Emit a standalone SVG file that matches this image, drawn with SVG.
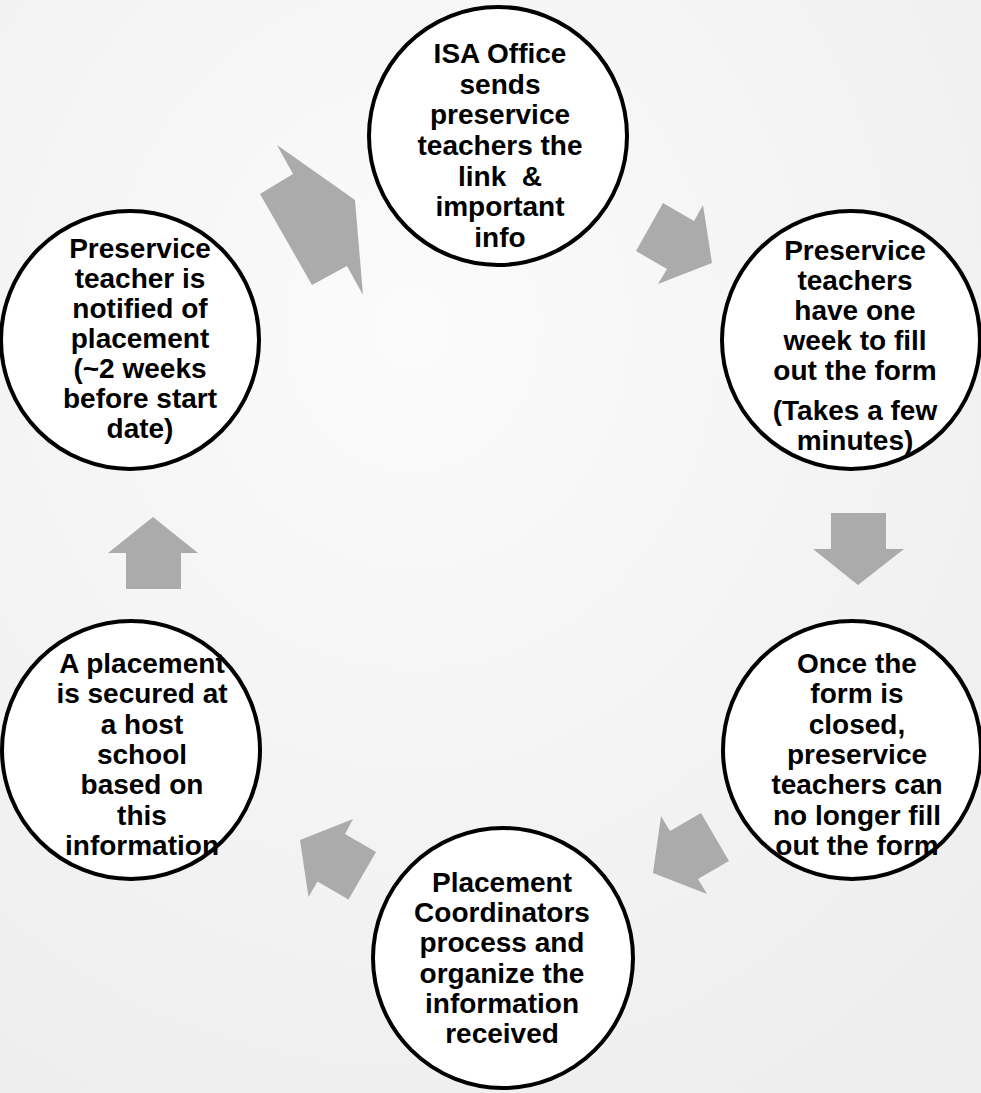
<svg xmlns="http://www.w3.org/2000/svg" width="981" height="1093" viewBox="0 0 981 1093">
<defs>
<radialGradient id="bg" cx="0.42" cy="0.3" r="0.85">
<stop offset="0" stop-color="#fbfbfb"/>
<stop offset="1" stop-color="#ededed"/>
</radialGradient>
</defs>
<style>
.node circle{fill:#ffffff;stroke:#000000;stroke-width:4}
.node text{font-family:"Liberation Sans",Arial,sans-serif;font-weight:bold;font-size:28px;fill:#000000;text-anchor:middle}
.arrow{fill:#ababab;stroke:none}
</style>
<rect x="0" y="0" width="981" height="1093" fill="url(#bg)"/>
<g id="connectors">
<polygon class="arrow" points="277,145 293,174 260,194 312,285 347,266 363,295 355,200"/>
<polygon class="arrow" points="663,203 694,221 703,205 712,263 658,284 667,269 636,251"/>
<polygon class="arrow" points="831,513 886,513 886,549 904,549 858,585 813,549 831,549"/>
<polygon class="arrow" points="701,813 670,831 661,816 653,873 707,894 698,879 729,861"/>
<polygon class="arrow" points="376,852 345,834 353,819 300,840 308.5,897 317.5,881.6 348.5,899.6"/>
<polygon class="arrow" points="153,517 198,553 181,553 181,589 126,589 126,553 108,553"/>
</g>
<g id="node-isa" class="node">
<circle cx="498" cy="136" r="129"/>
<text x="500" y="63">ISA Office</text>
<text x="500" y="94">sends</text>
<text x="500" y="124">preservice</text>
<text x="500" y="155">teachers the</text>
<text x="500" y="186" xml:space="preserve">link  &amp;</text>
<text x="500" y="216">important</text>
<text x="500" y="247">info</text>
</g>
<g id="node-fill-form" class="node">
<circle cx="851" cy="340" r="129"/>
<text x="855" y="260">Preservice</text>
<text x="855" y="290">teachers</text>
<text x="855" y="320">have one</text>
<text x="855" y="350">week to fill</text>
<text x="855" y="380">out the form</text>
<text x="855" y="420">(Takes a few</text>
<text x="855" y="450">minutes)</text>
</g>
<g id="node-form-closed" class="node">
<circle cx="852" cy="750" r="129"/>
<text x="857" y="673">Once the</text>
<text x="857" y="703">form is</text>
<text x="857" y="734">closed,</text>
<text x="857" y="764">preservice</text>
<text x="857" y="794">teachers can</text>
<text x="857" y="825">no longer fill</text>
<text x="857" y="855">out the form</text>
</g>
<g id="node-coordinators" class="node">
<circle cx="503" cy="958" r="130"/>
<text x="502" y="892">Placement</text>
<text x="502" y="922">Coordinators</text>
<text x="502" y="952">process and</text>
<text x="502" y="983">organize the</text>
<text x="502" y="1013">information</text>
<text x="502" y="1043">received</text>
</g>
<g id="node-secured" class="node">
<circle cx="131" cy="750" r="129"/>
<text x="142" y="673">A placement</text>
<text x="142" y="703">is secured at</text>
<text x="142" y="734">a host</text>
<text x="142" y="764">school</text>
<text x="142" y="794">based on</text>
<text x="142" y="825">this</text>
<text x="142" y="855">information</text>
</g>
<g id="node-notified" class="node">
<circle cx="130" cy="340" r="129"/>
<text x="140" y="258">Preservice</text>
<text x="140" y="288">teacher is</text>
<text x="140" y="318">notified of</text>
<text x="140" y="348">placement</text>
<text x="140" y="378">(~2 weeks</text>
<text x="140" y="408">before start</text>
<text x="140" y="438">date)</text>
</g>
</svg>
